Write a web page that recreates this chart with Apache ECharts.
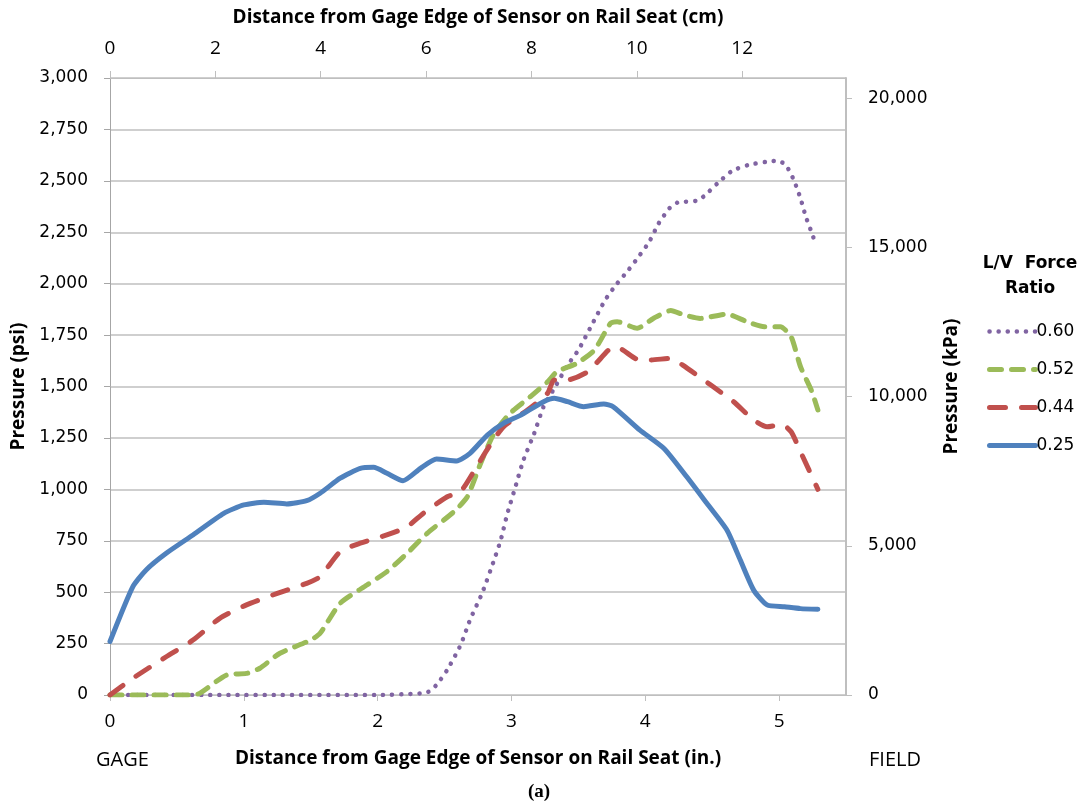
<!DOCTYPE html>
<html>
<head>
<meta charset="utf-8">
<script src="https://cdn.jsdelivr.net/npm/echarts@6/dist/echarts.min.js"></script>
<style>
html,body{margin:0;padding:0;background:#fff;}
#chart{width:1089px;height:805px;}
</style>
</head>
<body>
<div id="chart"></div>
<script>
// ---- Data (x in inches, y in psi) ----
const seriesNames = ['0.60', '0.52', '0.44', '0.25'];

const x060 = [0, 1.0, 2.0, 2.32, 2.38, 2.44, 2.52, 2.62, 2.69, 2.78, 2.87, 2.92, 2.97, 3.03, 3.09, 3.17, 3.24, 3.32, 3.42, 3.5, 3.6, 3.7, 3.78, 3.87, 3.95, 4.03, 4.1, 4.18, 4.24, 4.38, 4.44, 4.54, 4.65, 4.77, 4.91, 4.99, 5.05, 5.11, 5.16, 5.2, 5.25, 5.27];
const y060 = [0, 0, 0, 8, 16, 49, 122, 243, 365, 494, 656, 754, 883, 1013, 1143, 1272, 1402, 1491, 1604, 1677, 1799, 1920, 1993, 2063, 2131, 2204, 2293, 2366, 2394, 2403, 2426, 2488, 2549, 2577, 2593, 2598, 2577, 2504, 2415, 2325, 2237, 2196];

const x052 = [0, 0.62, 0.67, 0.87, 1.02, 1.12, 1.27, 1.5, 1.57, 1.72, 1.92, 2.07, 2.22, 2.37, 2.57, 2.67, 2.77, 2.87, 2.99, 3.14, 3.27, 3.34, 3.49, 3.62, 3.74, 3.79, 3.94, 4.06, 4.19, 4.29, 4.41, 4.61, 4.76, 4.89, 5.01, 5.09, 5.16, 5.24, 5.29];
const y052 = [0, 0, 8, 97, 105, 130, 203, 267, 300, 446, 535, 600, 689, 786, 891, 964, 1127, 1272, 1370, 1450, 1523, 1572, 1613, 1677, 1807, 1815, 1783, 1831, 1869, 1848, 1831, 1852, 1815, 1791, 1791, 1742, 1596, 1483, 1386];

const x044 = [0, 0.17, 0.42, 0.62, 0.82, 1.02, 1.25, 1.47, 1.57, 1.72, 1.87, 2.09, 2.22, 2.34, 2.52, 2.62, 2.74, 2.84, 2.94, 3.12, 3.27, 3.32, 3.42, 3.57, 3.74, 3.79, 3.94, 4.04, 4.19, 4.28, 4.49, 4.66, 4.81, 4.91, 5.02, 5.09, 5.16, 5.29];
const y044 = [0, 81, 186, 267, 373, 438, 494, 543, 575, 697, 738, 783, 818, 883, 964, 989, 1110, 1215, 1304, 1386, 1467, 1532, 1532, 1572, 1686, 1690, 1632, 1629, 1637, 1604, 1507, 1426, 1337, 1304, 1316, 1280, 1183, 1000];

const x025 = [0, 0.17, 0.27, 0.42, 0.62, 0.85, 1.0, 1.15, 1.32, 1.47, 1.57, 1.72, 1.87, 1.97, 2.07, 2.19, 2.32, 2.44, 2.59, 2.69, 2.82, 2.94, 3.07, 3.24, 3.32, 3.42, 3.54, 3.69, 3.76, 3.96, 4.14, 4.31, 4.46, 4.61, 4.71, 4.81, 4.91, 5.04, 5.16, 5.29];
const y025 = [260, 526, 608, 689, 778, 883, 924, 937, 929, 945, 981, 1054, 1102, 1107, 1078, 1042, 1102, 1147, 1138, 1175, 1264, 1321, 1361, 1426, 1443, 1426, 1402, 1415, 1402, 1288, 1199, 1061, 932, 802, 656, 510, 438, 429, 420, 417];

// Axis ranges
const inchMax = 5.5;
const cmPerInch = 2.54;
const psiMax = 3000;
const kPaPerPsi = 6.894757;

function pairs(xs, ys){ return xs.map((x,i)=>[x, ys[i]]); }
function comma(v){ return String(Math.round(v)).replace(/\B(?=(\d{3})+(?!\d))/g, ','); }

const narrow = '"Liberation Sans Narrow", "Open Sans", sans-serif';
const wide = '"DejaVu Sans", Verdana, sans-serif';

const chart = echarts.init(document.getElementById('chart'));
const styles = {
  '0.60': {color:'#8064A2', width:4.5, type:[0.1, 9], cap:'round'},
  '0.52': {color:'#9BBB59', width:5, type:[12, 10], cap:'round'},
  '0.44': {color:'#C0504D', width:5, type:[16, 16], cap:'round'},
  '0.25': {color:'#4F81BD', width:5, type:'solid', cap:'round'}
};
const dataMap = {
  '0.60': pairs(x060, y060),
  '0.52': pairs(x052, y052),
  '0.44': pairs(x044, y044),
  '0.25': pairs(x025, y025)
};

chart.setOption({
  animation: false,
  backgroundColor: '#fff',
  title: [
    {text: 'GAGE', left: 91, top: 745, textStyle: {fontFamily: narrow, fontSize: 20, fontWeight: 'normal', color: '#000'}},
    {text: 'FIELD', left: 864, top: 745, textStyle: {fontFamily: narrow, fontSize: 20, fontWeight: 'normal', color: '#000'}},
    {text: '(a)', left: 534, top: 778, textAlign: 'center', textStyle: {fontFamily: '"Liberation Serif", serif', fontSize: 19, fontWeight: 'bold', color: '#000'}},
    {text: 'L/V  Force\nRatio', left: 1025, top: 246, textAlign: 'center', textStyle: {fontFamily: wide, fontSize: 17, fontWeight: 'bold', color: '#000', lineHeight: 25}}
  ],
  legend: {
    orient: 'vertical',
    left: 982,
    top: 318,
    itemWidth: 46,
    itemHeight: 14,
    itemGap: 21,
    itemStyle: {opacity: 0},
    data: seriesNames.map(n => ({
      name: n,
      lineStyle: {color: styles[n].color, width: styles[n].width, type: styles[n].type, cap: styles[n].cap}
    })),
    textStyle: {fontFamily: wide, fontSize: 17, color: '#000', padding: [0,0,0,-4]}
  },
  grid: {left: 110, right: 243, top: 78, bottom: 110, containLabel: false, outerBoundsMode: 'none'},
  xAxis: [
    {
      type: 'value', position: 'bottom', min: 0, max: inchMax, interval: 1,
      name: 'Distance from Gage Edge of Sensor on Rail Seat (in.)',
      nameLocation: 'middle', nameGap: 54,
      nameTextStyle: {fontFamily: narrow, fontSize: 19, fontWeight: 'bold', color: '#000'},
      axisLine: {show: true, onZero: false, lineStyle: {color: '#BFBFBF', width: 1}},
      axisTick: {show: true, length: 6, lineStyle: {color: '#BFBFBF'}},
      axisLabel: {showMaxLabel: false, margin: 17, fontFamily: narrow, fontSize: 19, color: '#000'},
      splitLine: {show: false}
    },
    {
      type: 'value', position: 'top', min: 0, max: inchMax * cmPerInch, interval: 2,
      name: 'Distance from Gage Edge of Sensor on Rail Seat (cm)',
      nameLocation: 'middle', nameGap: 51,
      nameTextStyle: {fontFamily: narrow, fontSize: 19, fontWeight: 'bold', color: '#000'},
      axisLine: {show: true, onZero: false, lineStyle: {color: '#BFBFBF', width: 1}},
      axisTick: {show: true, length: 7, lineStyle: {color: '#BFBFBF'}},
      axisLabel: {showMaxLabel: false, margin: 20, fontFamily: narrow, fontSize: 19, color: '#000'},
      splitLine: {show: false}
    }
  ],
  yAxis: [
    {
      type: 'value', position: 'left', min: 0, max: psiMax, interval: 250,
      name: 'Pressure (psi)', nameLocation: 'middle', nameGap: 82, nameRotate: 90,
      nameTextStyle: {fontFamily: narrow, fontSize: 19, fontWeight: 'bold', color: '#000'},
      axisLine: {show: true, onZero: false, lineStyle: {color: '#A6A6A6', width: 1}},
      axisTick: {show: true, length: 6, lineStyle: {color: '#A6A6A6'}},
      axisLabel: {margin: 22, fontFamily: wide, fontSize: 17, color: '#000', formatter: comma},
      splitLine: {show: true, lineStyle: {color: '#BFBFBF', width: 1.5}}
    },
    {
      type: 'value', position: 'right', min: 0, max: psiMax * kPaPerPsi, interval: 5000,
      name: 'Pressure (kPa)', nameLocation: 'middle', nameGap: 96, nameRotate: 90,
      nameTextStyle: {fontFamily: narrow, fontSize: 19, fontWeight: 'bold', color: '#000'},
      axisLine: {show: true, onZero: false, lineStyle: {color: '#BFBFBF', width: 2}},
      axisTick: {show: true, length: 6, lineStyle: {color: '#BFBFBF'}},
      axisLabel: {showMaxLabel: false, margin: 22, fontFamily: wide, fontSize: 17, color: '#000', formatter: comma},
      splitLine: {show: false}
    }
  ],
  series: seriesNames.map(n => ({
    name: n,
    type: 'line',
    xAxisIndex: 0,
    yAxisIndex: 0,
    data: dataMap[n],
    showSymbol: false,
    symbol: 'none',
    smooth: 0.2,
    color: styles[n].color,
    lineStyle: {color: styles[n].color, width: styles[n].width, type: styles[n].type, cap: styles[n].cap}
  }))
});
</script>
</body>
</html>
